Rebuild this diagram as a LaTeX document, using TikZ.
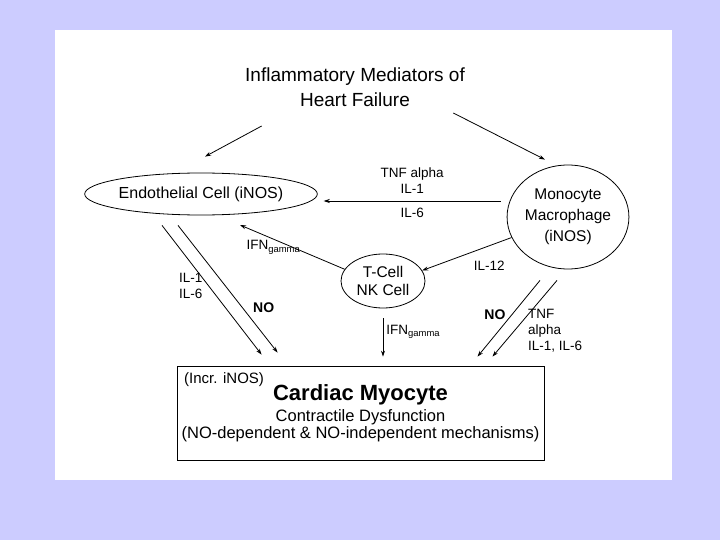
\documentclass[tikz,border=0pt]{standalone}
\usepackage{fontspec}
\setmainfont{Liberation Sans}
\usetikzlibrary{positioning,shapes.geometric,arrows.meta}
\definecolor{slideLavender}{RGB}{204,204,255}

\begin{document}
\begin{tikzpicture}[x=1pt,y=-1pt,
    cellShape/.style={draw,ellipse,line width=0.8pt,inner sep=0pt},
    mediator/.style={font=\fontsize{13.5}{16}\selectfont,inner sep=1pt},
    feed/.style={line width=0.8pt,-{Stealth[length=6pt,width=4pt]}}]
  \fill[slideLavender] (0,0) rectangle (720,540);
  \fill[white] (55,30) rectangle (672,480);
  \useasboundingbox (0,0) rectangle (720,540);

  \node[align=center,font=\fontsize{19}{25}\selectfont] (title) at (355,87)
    {Inflammatory Mediators of\\Heart Failure};
  \node[cellShape,minimum width=222,minimum height=42,
    font=\fontsize{16}{19}\selectfont] (endothelial) at (201,194)
    {Endothelial Cell (iNOS)};
  \node[cellShape,minimum width=114,minimum height=104,align=center,
    font=\fontsize{15.5}{21}\selectfont] (monocyte) at (568,217)
    {Monocyte\\Macrophage\\(iNOS)};
  \node[cellShape,minimum width=84,minimum height=54,align=center,
    font=\fontsize{15.5}{18}\selectfont] (tcell) at (383,281)
    {T-Cell\\NK Cell};
  \node[draw,line width=0.8pt,minimum width=367,minimum height=94,
    inner sep=0pt,align=center] (myocyte) at (360.5,413)
    {{\fontsize{22}{24}\selectfont\bfseries Cardiac Myocyte}\\[4pt]
     {\fontsize{16.5}{20}\selectfont Contractile Dysfunction}\\
     {\fontsize{16.5}{20}\selectfont (NO-dependent \& NO-independent mechanisms)}};
  \node[font=\fontsize{15}{17}\selectfont,anchor=west,inner sep=0pt]
    (incr) at (184,380) {(Incr. iNOS)};

  % from the title
  \draw[feed] ([shift={(20,16)}]title.south west) -- ([shift={(4,-16)}]endothelial.north);
  \draw[feed] ([shift={(-15,3)}]title.south east) -- ([shift={(-23,-5)}]monocyte.north);

  % monocyte / macrophage
  \draw[feed] ([shift={(-6,-16)}]monocyte.west) -- ([shift={(6,7)}]endothelial.east)
    node[midway,above=6pt,mediator,align=center] (tnfTop) {TNF alpha\\IL-1}
    node[midway,below=6pt,mediator] (ilSix) {IL-6};
  \draw[feed] (monocyte.200) -- (tcell.15)
    node[pos=0.25,below=14pt,mediator] (ilTwelve) {IL-12};
  \draw[feed] ([shift={(-28,11)}]monocyte.south) -- ([shift={(117,-9)}]myocyte.north)
    node[pos=0.45,left=5pt,mediator,font=\fontsize{14}{16}\selectfont\bfseries] (noRight) {NO};
  \draw[feed] ([shift={(-11,11)}]monocyte.south) -- ([shift={(132,-9)}]myocyte.north);
  \node[mediator,align=left,anchor=west] (tnfRight) at (527,331)
    {TNF\\alpha\\IL-1, IL-6};

  % T-cell / NK cell
  \draw[feed] (tcell.163) -- ([shift={(39,31)}]endothelial.center)
    node[pos=0.68,below=0pt,mediator] (ifnLeft) {IFN\textsubscript{gamma}};
  \coordinate (tcellFoot) at (tcell.south |- myocyte.north);
  \draw[feed] ([yshift=-10pt]tcell.south) -- ([yshift=9pt]tcellFoot)
    node[pos=0.35,right=2pt,mediator] (ifnDown) {IFN\textsubscript{gamma}};

  % endothelial cell
  \draw[feed] ([shift={(-39,10)}]endothelial.south) -- ([shift={(85,-11)}]myocyte.north west)
    node[pos=0.47,left=5pt,mediator,align=right] (ilLeft) {IL-1\\IL-6};
  \draw[feed] ([shift={(-23,10)}]endothelial.south) -- ([shift={(101,-13)}]myocyte.north west)
    node[pos=0.65,right=9pt,mediator,font=\fontsize{14}{16}\selectfont\bfseries] (noLeft) {NO};
\end{tikzpicture}
\end{document}
